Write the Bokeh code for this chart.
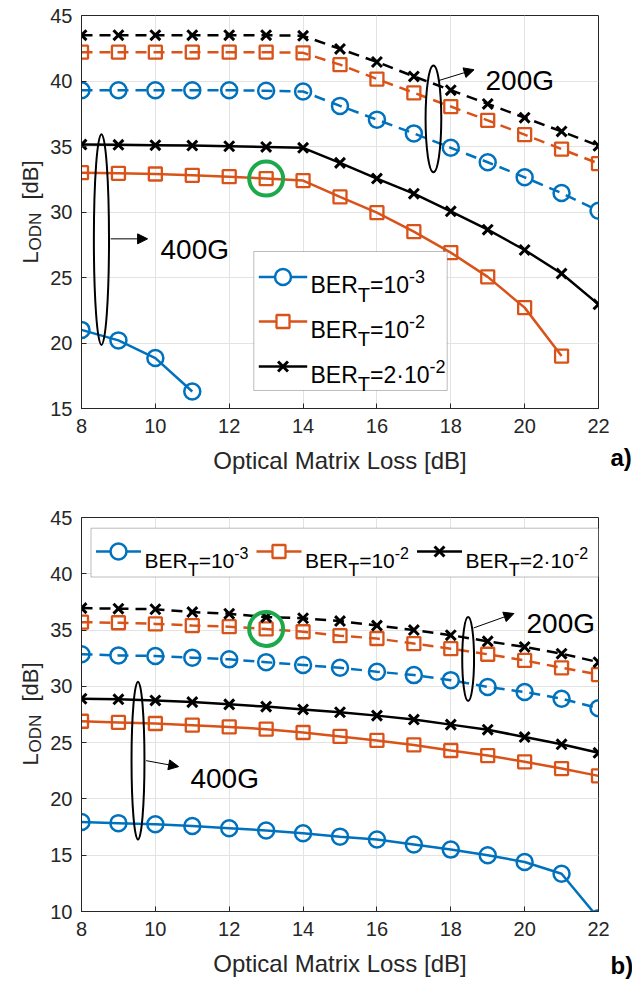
import numpy as np
from bokeh.plotting import figure
from bokeh.models import Range1d, FixedTicker, Label, Arrow, NormalHead, BoxAnnotation
from bokeh.layouts import column, row
from bokeh.embed import file_html
from bokeh.resources import INLINE

# ---------------- data ----------------
x_loss = [8, 9, 10, 11, 12, 13, 14, 15, 16, 17, 18, 19, 20, 21, 22]
x_ticks = [8, 10, 12, 14, 16, 18, 20, 22]
a_yticks = [15, 20, 25, 30, 35, 40, 45]
b_yticks = [10, 15, 20, 25, 30, 35, 40, 45]

# panel a)  (dashed = 200G, solid = 400G)
a_200_ber3 = [39.3, 39.3, 39.3, 39.3, 39.3, 39.25, 39.2, 38.1, 37.05, 36.0, 34.9, 33.8, 32.65, 31.45, 30.1]
a_200_ber2 = [42.2, 42.2, 42.2, 42.2, 42.2, 42.2, 42.15, 41.25, 40.15, 39.1, 38.05, 37.0, 35.9, 34.8, 33.7]
a_200_ber22 = [43.5, 43.5, 43.5, 43.5, 43.5, 43.5, 43.45, 42.45, 41.45, 40.35, 39.3, 38.25, 37.2, 36.15, 35.05]
a_400_ber3 = [21.0, 20.2, 18.85, 16.3]
a_400_ber2 = [33.0, 32.95, 32.9, 32.8, 32.7, 32.55, 32.4, 31.15, 29.95, 28.5, 26.9, 25.05, 22.7, 19.0]
a_400_ber22 = [35.15, 35.13, 35.1, 35.07, 35.02, 34.97, 34.9, 33.75, 32.55, 31.4, 30.05, 28.65, 27.1, 25.3, 22.95]

# panel b)
b_200_ber3 = [32.85, 32.75, 32.7, 32.55, 32.4, 32.15, 31.9, 31.65, 31.3, 31.0, 30.55, 29.95, 29.5, 28.9, 28.05]
b_200_ber2 = [35.7, 35.65, 35.55, 35.4, 35.3, 35.1, 34.85, 34.5, 34.25, 33.8, 33.35, 32.85, 32.3, 31.65, 31.05]
b_200_ber22 = [36.95, 36.9, 36.85, 36.6, 36.45, 36.15, 36.05, 35.8, 35.4, 35.0, 34.55, 34.0, 33.5, 32.9, 32.15]
b_400_ber3 = [17.95, 17.85, 17.75, 17.6, 17.4, 17.2, 16.95, 16.65, 16.4, 15.95, 15.5, 15.0, 14.4, 13.35, 9.4]
b_400_ber2 = [26.9, 26.8, 26.7, 26.55, 26.4, 26.2, 25.9, 25.55, 25.2, 24.8, 24.3, 23.85, 23.3, 22.7, 22.05]
b_400_ber22 = [28.9, 28.85, 28.75, 28.6, 28.4, 28.2, 27.95, 27.7, 27.4, 27.05, 26.6, 26.15, 25.5, 24.85, 24.1]

legend_values = [("=10", "-3"), ("=10", "-2"), ("=2\u00b710", "-2")]
xlabel = "Optical Matrix Loss [dB]"
ylabel_parts = ["L", "ODN", "[dB]"]
panel_tags = ["a)", "b)"]

# ---------------- style ----------------
FONT = "Liberation Sans"
AX = "#262626"
BLUE, ORANGE, BLACK, GREEN = "#0072BD", "#D95319", "#000000", "#1BA94C"
COLORS = [BLUE, ORANGE, BLACK]
MARKERS = [dict(marker="circle", size=16, line_width=2.5),
           dict(marker="square", size=13, line_width=2.3),
           dict(marker="x", size=14, line_width=3)]
DASH = "11 7"
FW = 517
LB = 41          # left border of the chart figures
LEFT_W = 96      # strip holding the y labels (partly under the charts' transparent border)
OVERLAP = LEFT_W - (81 - LB)
RIGHT_W = 22     # strip holding the panel tags
CW = {"B": .667, "E": .667, "R": .722, "T": .611, "=": .584, "-": .333,
      "\u00b7": .333, "0": .556, "1": .556, "2": .556, "3": .556}


def tw(t, fs):
    return sum(CW.get(c, .556) for c in t) * fs


def make_fig(ymin, yticks, btop, fh, bbot):
    p = figure(frame_width=FW, frame_height=fh, x_range=Range1d(8, 22), y_range=Range1d(ymin, 45),
               min_border_left=LB, min_border_right=12, min_border_top=btop, min_border_bottom=bbot,
               output_backend="svg", toolbar_location=None)
    p.extra_x_ranges = {"px": Range1d(0, FW)}
    p.extra_y_ranges = {"py": Range1d(fh, 0)}
    p.xaxis.ticker = FixedTicker(ticks=x_ticks)
    p.yaxis.ticker = FixedTicker(ticks=yticks)
    for ax in p.axis:
        ax.major_label_text_font = FONT
        ax.major_label_text_font_size = "20px"
        ax.major_label_text_color = AX
        ax.axis_line_color = AX
        ax.major_tick_line_color = AX
        ax.major_tick_in = 5
        ax.major_tick_out = 0
        ax.minor_tick_line_color = None
    p.xaxis.major_label_standoff = 10
    p.yaxis.major_label_standoff = 9
    p.xaxis.axis_label = xlabel
    p.xaxis.axis_label_text_font = FONT
    p.xaxis.axis_label_text_font_size = "24px"
    p.xaxis.axis_label_text_font_style = "normal"
    p.xaxis.axis_label_text_color = AX
    p.xaxis.axis_label_standoff = 11
    p.grid.grid_line_color = "#e3e3e3"
    p.outline_line_color = AX
    p.background_fill_color = "white"
    p.border_fill_alpha = 0
    return p


def strip(w):
    s = figure(frame_width=w, frame_height=982, x_range=Range1d(0, w), y_range=Range1d(982, 0),
               min_border=0, x_axis_location=None, y_axis_location=None,
               output_backend="svg", toolbar_location=None)
    s.grid.visible = False
    s.outline_line_color = None
    s.background_fill_color = "white"
    s.border_fill_color = "white"
    return s


def series(p, ys, i, dashed):
    xs = x_loss[:len(ys)]
    p.line(xs, ys, line_color=COLORS[i], line_width=2.5, line_dash=DASH if dashed else "solid")
    p.scatter(xs, ys, fill_color=None, line_color=COLORS[i], **MARKERS[i])


def legend_item(p, i, lx0, lx1, ly, tx, base, fs_main, fs_sub, fs_sup):
    p.line([lx0, lx1], [ly, ly], x_range_name="px", y_range_name="py", line_color=COLORS[i],
           line_width=2.5, level="overlay")
    p.scatter([(lx0 + lx1) / 2], [ly], x_range_name="px", y_range_name="py", fill_color="white",
              line_color=COLORS[i], level="overlay", **MARKERS[i])
    val, sup = legend_values[i]
    x = tx
    for t, fs, dy in [("BER", fs_main, 0), ("T", fs_sub, 0.43 * fs_main), (val, fs_main, 0), (sup, fs_sup, -0.35 * fs_main)]:
        p.add_layout(Label(x=x, y=base + dy, x_range_name="px", y_range_name="py", text=t,
                           text_font=FONT, text_font_size=f"{fs}px", text_color="black",
                           text_align="left", text_baseline="alphabetic", level="overlay"))
        x += tw(t, fs)


def note(p, ex, ey, ew, eh, ax0, ay0, ax1, ay1, tx, ty, text):
    p.ellipse(x=[ex], y=[ey], width=[ew], height=[eh], fill_color=None, line_color="black", line_width=2)
    p.add_layout(Arrow(x_start=ax0, y_start=ay0, x_end=ax1, y_end=ay1, line_width=1, line_color="black",
                       end=NormalHead(size=10, fill_color="black", line_color="black", line_width=1)))
    p.add_layout(Label(x=tx, y=ty, text=text, text_font=FONT, text_font_size="28px", text_color="black",
                       text_align="left", text_baseline="alphabetic"))


# ---------------- panel a ----------------
pa = make_fig(15, a_yticks, 15, 393, 82)
for i, ys in enumerate([a_200_ber3, a_200_ber2, a_200_ber22]):
    series(pa, ys, i, True)
for i, ys in enumerate([a_400_ber3, a_400_ber2, a_400_ber22]):
    series(pa, ys, i, False)
pa.scatter([x_loss[5]], [a_400_ber2[5]], marker="circle", size=34, fill_color=None, line_color=GREEN, line_width=4)
note(pa, 8.54, 27.9, 0.41, 16.1, 8.79, 27.95, 9.79, 27.95, 10.14, 27.14, "400G")
note(pa, 17.53, 37.11, 0.425, 8.14, 17.68, 40.04, 18.63, 40.86, 18.94, 40.04, "200G")
pa.add_layout(BoxAnnotation(left=172.3, right=365.7, top=236, bottom=375, x_range_name="px", y_range_name="py",
                            fill_color="white", fill_alpha=1, line_color=AX, line_width=1, level="annotation"))
for i, base in enumerate([269.5, 314, 359]):
    legend_item(pa, i, 177.3, 225.7, base - 8, 229, base, 23, 20, 18)

# ---------------- panel b ----------------
pb = make_fig(10, b_yticks, 27, 394, 71)
for i, ys in enumerate([b_200_ber3, b_200_ber2, b_200_ber22]):
    series(pb, ys, i, True)
for i, ys in enumerate([b_400_ber3, b_400_ber2, b_400_ber22]):
    series(pb, ys, i, False)
pb.scatter([x_loss[5]], [b_200_ber2[5]], marker="circle", size=34, fill_color=None, line_color=GREEN, line_width=4)
note(pb, 9.53, 23.4, 0.35, 14.0, 9.75, 23.4, 10.63, 22.87, 10.95, 21.83, "400G")
note(pb, 18.47, 32.43, 0.32, 7.47, 18.62, 35.19, 19.71, 36.47, 20.05, 35.58, "200G")
pb.add_layout(BoxAnnotation(left=9.5, right=FW, top=10.7, bottom=59.5, x_range_name="px", y_range_name="py",
                            fill_color="white", fill_alpha=1, line_color=AX, line_width=1, level="annotation"))
for i, (l0, l1, tx) in enumerate([(14.5, 59.5, 63), (175, 220, 223.5), (335.5, 380.5, 384)]):
    legend_item(pb, i, l0, l1, 34, tx, 43, 21, 18, 16)

# ---------------- side strips (y labels, panel tags) ----------------
sl = strip(LEFT_W)
for top in [15, 517]:
    for t, fs, bx, start in zip(ylabel_parts, [22, 17, 22], [30, 35, 30], [248, 235, 184]):
        sl.add_layout(Label(x=bx, y=top + start, text=t, angle=np.pi / 2, text_font=FONT,
                            text_font_size=f"{fs}px", text_color=AX, text_align="left",
                            text_baseline="alphabetic"))

sr = strip(RIGHT_W)
for tag, base in zip(panel_tags, [456.5, 965]):
    sr.add_layout(Label(x=0, y=base, text=tag, text_font=FONT, text_font_size="24px",
                        text_font_style="bold", text_color="black", text_align="left",
                        text_baseline="alphabetic"))

charts = column(pa, pb)
charts.margin = (0, 0, 0, -OVERLAP)
layout = row(sl, charts, sr)
open("out.html", "w").write(file_html(layout, INLINE))
